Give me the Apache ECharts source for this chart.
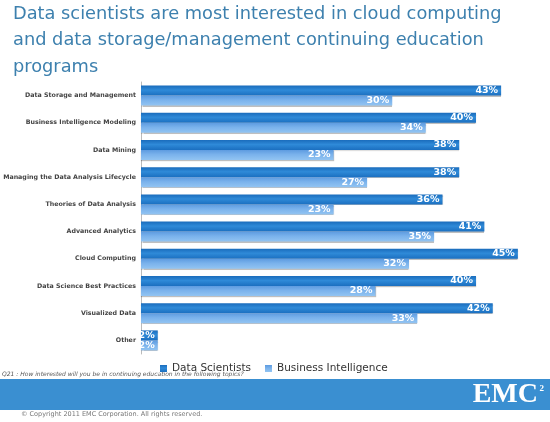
<!DOCTYPE html>
<html><head><meta charset="utf-8">
<script src="https://cdn.jsdelivr.net/npm/echarts@6/dist/echarts.min.js"></script>
<style>html,body{margin:0;padding:0;background:#fff}#c{width:550px;height:422px}</style>
</head><body><div id="c"></div>
<script>
const categories = ["Data Storage and Management","Business Intelligence Modeling","Data Mining","Managing the Data Analysis Lifecycle","Theories of Data Analysis","Advanced Analytics","Cloud Computing","Data Science Best Practices","Visualized Data","Other"];
const dataScientists = [43,40,38,38,36,41,45,40,42,2];
const businessIntelligence = [30,34,23,27,23,35,32,28,33,2];
const seriesNames = ["Data Scientists","Business Intelligence"];

const chart = echarts.init(document.getElementById('c'));
const grad = (a,b,c) => new echarts.graphic.LinearGradient(0,0,0,1,[{offset:0,color:a},{offset:0.45,color:b},{offset:1,color:c}]);
const lbl = {show:true,position:'insideRight',formatter:'{c}%',color:'#fff',fontWeight:'bold',fontSize:9.5,fontFamily:'DejaVu Sans',distance:3};
chart.setOption({
  animation:false,
  title:{text:'Data scientists are most interested in cloud computing\nand data storage/management continuing education\nprograms',
    left:8,top:-4,textStyle:{color:'#3d80ae',fontSize:17.8,fontWeight:'normal',fontFamily:'DejaVu Sans',lineHeight:26.5}},
  legend:{data:seriesNames,left:155,top:358,itemWidth:7,itemHeight:7,itemGap:14,icon:'rect',
    textStyle:{fontSize:10.5,color:'#333',fontFamily:'DejaVu Sans'}},
  grid:{left:141,right:7,top:82,bottom:68,outerBoundsMode:'none',containLabel:false},
  xAxis:{type:'value',min:0,max:48,show:false},
  yAxis:{type:'category',data:categories,inverse:true,
    axisLine:{show:true,lineStyle:{color:'#bbb'}},axisTick:{show:false},
    axisLabel:{fontSize:6.3,fontWeight:'bold',color:'#444',fontFamily:'DejaVu Sans',margin:5}},
  series:[
    {name:seriesNames[0],type:'bar',data:dataScientists,barWidth:10,barGap:'0%',
      itemStyle:{color:grad('#1a6cbc','#2f8ad8','#1b6fc0'),shadowColor:'rgba(0,0,0,0.25)',shadowOffsetY:1,shadowBlur:1},label:lbl},
    {name:seriesNames[1],type:'bar',data:businessIntelligence,barWidth:10,
      itemStyle:{color:grad('#5d9be0','#7ab2ec','#92c4f2'),shadowColor:'rgba(0,0,0,0.25)',shadowOffsetY:1,shadowBlur:1},label:lbl}
  ],
  graphic:[
    {type:'text',left:2,top:371,style:{text:'Q21 : How interested will you be in continuing education in the following topics?',fontSize:6,fontStyle:'italic',fill:'#555',fontFamily:'DejaVu Sans'}},
    {type:'rect',left:0,top:379,shape:{width:550,height:31},style:{fill:'#3a8fd1'}},
    {type:'text',right:12,top:381,style:{text:'EMC',fontSize:28,fontWeight:'bold',fontFamily:'Liberation Serif',fill:'#fff'}},
    {type:'text',right:6,top:384,style:{text:'2',fontSize:9,fontWeight:'bold',fontFamily:'Liberation Serif',fill:'#fff'}},
    {type:'text',left:21,top:411,style:{text:'© Copyright 2011 EMC Corporation. All rights reserved.',fontSize:6.5,fill:'#777',fontFamily:'DejaVu Sans'}}
  ]
});
</script></body></html>
